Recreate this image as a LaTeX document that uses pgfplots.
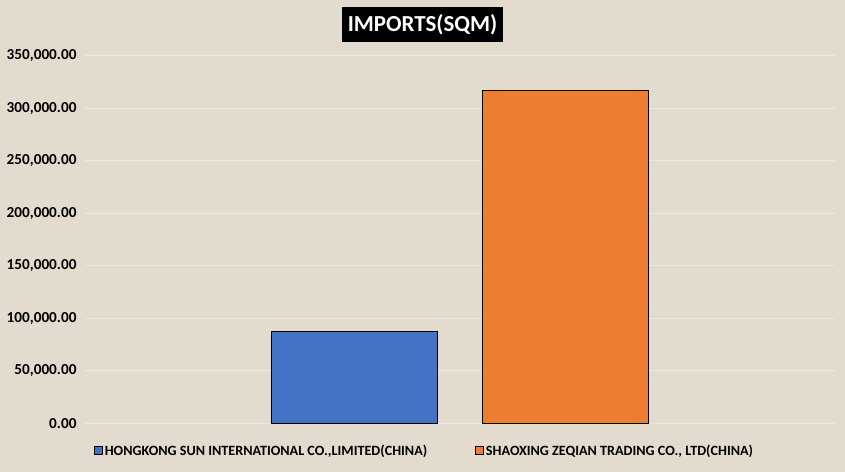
\documentclass[border=0pt]{standalone}
\usepackage{fontspec}
\setmainfont{Carlito}
\usepackage{pgfplots}
\pgfplotsset{compat=1.18}
\definecolor{bg}{RGB}{227,219,205}
\definecolor{barblue}{RGB}{68,114,196}
\definecolor{barorange}{RGB}{237,125,49}
\definecolor{gridc}{RGB}{236,233,229}
\begin{document}
\begin{tikzpicture}
\fill[bg] (0bp,0bp) rectangle (845bp,472bp);
\useasboundingbox (0bp,0bp) rectangle (845bp,472bp);
\begin{axis}[
  at={(85bp,48.7bp)}, anchor=south west,
  scale only axis, width=750bp, height=367.6bp,
  xmin=-1, xmax=1, ymin=0, ymax=350000,
  axis line style={draw=none},
  major tick length=0pt,
  xtick=\empty,
  ytick={0,50000,100000,150000,200000,250000,300000,350000},
  ymajorgrids, grid style={gridc, line width=1bp},
  scaled y ticks=false,
  yticklabel style={font=\fontsize{15.3}{17}\selectfont\bfseries, text=black, xshift=-5bp,
    /pgf/number format/.cd, fixed, fixed zerofill, precision=2, 1000 sep={,}, assume math mode=true},
  legend style={draw=none, fill=none, at={(0.4527,-0.075)}, anchor=center,
    legend columns=2, font=\fontsize{14.2}{16}\selectfont\bfseries,
    /tikz/every even column/.append style={column sep=46bp}},
  legend image code/.code={\draw[#1, line width=0.8bp] (0bp,-4bp) rectangle (8bp,4bp);},
]
\addplot[ybar, bar width=0.4427, bar shift=-0.2813, fill=barblue, draw=black, line width=1.5bp] coordinates {(0,87600)};
\addlegendentry{HONGKONG SUN INTERNATIONAL CO.,LIMITED(CHINA)}
\addplot[ybar, bar width=0.4427, bar shift=0.2813, fill=barorange, draw=black, line width=1.5bp] coordinates {(0,316700)};
\addlegendentry{SHAOXING ZEQIAN TRADING CO., LTD(CHINA)}
\end{axis}
\node[fill=black, text=white, font=\fontsize{23}{26}\selectfont\bfseries, inner xsep=6bp, minimum height=35bp] at (422.5bp,447.5bp) {IMPORTS(SQM)};
\end{tikzpicture}
\end{document}
